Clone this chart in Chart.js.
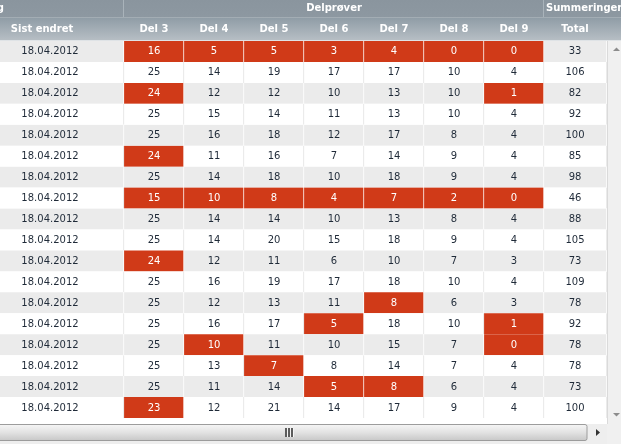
<!DOCTYPE html>
<html>
<head>
<meta charset="utf-8">
<script src="https://cdn.jsdelivr.net/npm/chart.js@4.4.1/dist/chart.umd.min.js"></script>
<style>
  html, body { margin: 0; padding: 0; background: #fff; }
  #wrap { width: 621px; height: 444px; position: relative; }
</style>
</head>
<body>
<div id="wrap"><canvas id="gridChart"></canvas></div>
<script>
// column headers and group headers
const columnNames = ['Sist endret', 'Del 3', 'Del 4', 'Del 5', 'Del 6', 'Del 7', 'Del 8', 'Del 9', 'Total'];
const rowIds = ['r1', 'r2', 'r3', 'r4', 'r5', 'r6', 'r7', 'r8', 'r9', 'r10', 'r11', 'r12', 'r13', 'r14', 'r15', 'r16', 'r17', 'r18'];

const sistEndret = ['18.04.2012', '18.04.2012', '18.04.2012', '18.04.2012', '18.04.2012', '18.04.2012',
  '18.04.2012', '18.04.2012', '18.04.2012', '18.04.2012', '18.04.2012', '18.04.2012',
  '18.04.2012', '18.04.2012', '18.04.2012', '18.04.2012', '18.04.2012', '18.04.2012'];
const del3 = [16, 25, 24, 25, 25, 24, 25, 15, 25, 25, 24, 25, 25, 25, 25, 25, 25, 23];
const del4 = [5, 14, 12, 15, 16, 11, 14, 10, 14, 14, 12, 16, 12, 16, 10, 13, 11, 12];
const del5 = [5, 19, 12, 14, 18, 16, 18, 8, 14, 20, 11, 19, 13, 17, 11, 7, 14, 21];
const del6 = [3, 17, 10, 11, 12, 7, 10, 4, 10, 15, 6, 17, 11, 5, 10, 8, 5, 14];
const del7 = [4, 17, 13, 13, 17, 14, 18, 7, 13, 18, 10, 18, 8, 18, 15, 14, 8, 17];
const del8 = [0, 10, 10, 10, 8, 9, 9, 2, 8, 9, 7, 10, 6, 10, 7, 7, 6, 9];
const del9 = [0, 4, 1, 4, 4, 4, 4, 0, 4, 4, 3, 4, 3, 1, 0, 4, 4, 4];
const total = [33, 106, 82, 92, 100, 85, 98, 46, 88, 105, 73, 109, 78, 92, 78, 78, 73, 100];

// a Del value at or below its limit is flagged red (null = never flagged)
const redLimits = [null, 24, 10, 8, 5, 8, 2, 1, null];

// layout: column edges on the x scale (1 unit = 1 px of the grid)
const columnEdges = [-24, 124, 184, 244, 304, 364, 424, 484, 544, 607];

const columnValues = [sistEndret, del3, del4, del5, del6, del7, del8, del9, total];

const RED = '#d03a18';
const ROW_GRAY = '#ebebeb';
const FONT = '"DejaVu Sans", Tahoma, sans-serif';

function isFlagged(col, row) {
  const limit = redLimits[col];
  return limit !== null && columnValues[col][row] <= limit;
}

const datasets = columnNames.map((name, col) => ({
  label: name,
  values: columnValues[col],
  data: rowIds.map(() => [columnEdges[col], columnEdges[col + 1]]),
  backgroundColor: rowIds.map((_, row) => isFlagged(col, row) ? RED : (row % 2 === 0 ? ROW_GRAY : '#ffffff')),
  borderColor: rowIds.map((_, row) => (isFlagged(col, row) || row % 2 === 0) ? '#ffffff' : '#e2e2e2'),
  borderWidth: { right: 1, left: 0, top: 0, bottom: 0 },
  borderSkipped: false,
  barPercentage: 1,
  categoryPercentage: 1,
  grouped: false
}));

const gridChrome = {
  id: 'gridChrome',
  afterDatasetsDraw(chart) {
    const ctx = chart.ctx;
    ctx.save();
    ctx.font = `10px ${FONT}`;
    ctx.textAlign = 'center';
    ctx.textBaseline = 'middle';
    chart.data.datasets.forEach((ds, col) => {
      const meta = chart.getDatasetMeta(col);
      meta.data.forEach((bar, row) => {
        const { x, base, y } = bar.getProps(['x', 'base', 'y'], true);
        const left = Math.max(Math.min(x, base), chart.chartArea.left);
        const right = Math.max(x, base);
        ctx.fillStyle = isFlagged(col, row) ? '#ffffff' : '#1f2a38';
        const cx = col === 0 ? (Math.min(x, base) + right) / 2 : (left + right - 1) / 2;
        ctx.fillText(String(ds.values[row]), Math.round(cx), Math.round(y) + 0.5);
      });
    });
    ctx.restore();
  },
  afterDraw(chart) {
    const ctx = chart.ctx;
    const xs = chart.scales.x;
    const area = chart.chartArea;
    const W = chart.width;
    const H = chart.height;
    const px = (v) => xs.getPixelForValue(v);
    ctx.save();

    // header: group row
    let g = ctx.createLinearGradient(0, 0, 0, 17);
    g.addColorStop(0, '#8a959e');
    g.addColorStop(1, '#8d98a1');
    ctx.fillStyle = g;
    ctx.fillRect(0, 0, W, 17);
    // header: column row
    g = ctx.createLinearGradient(0, 17, 0, 40);
    g.addColorStop(0, '#8e9ba5');
    g.addColorStop(1, '#b6bec4');
    ctx.fillStyle = g;
    ctx.fillRect(0, 17, W, 23);
    ctx.fillStyle = '#a3adb4';
    ctx.fillRect(0, 17, W, 1);
    ctx.fillStyle = '#dfe3e6';
    ctx.fillRect(0, 40, W, 1);

    // group separators
    ctx.fillStyle = '#a9b3ba';
    ctx.fillRect(px(columnEdges[1]) - 1, 0, 1, 17);
    ctx.fillRect(px(columnEdges[8]) - 1, 0, 1, 17);

    ctx.fillStyle = '#ffffff';
    ctx.font = `bold 10px ${FONT}`;
    ctx.textBaseline = 'middle';
    ctx.textAlign = 'right';
    ctx.fillText('Registrering', 4, 8);
    ctx.textAlign = 'center';
    ctx.fillText('Delprøver', (px(columnEdges[1]) + px(columnEdges[8])) / 2, 8);
    ctx.textAlign = 'left';
    ctx.fillText('Summeringer', px(columnEdges[8]) + 2, 8);

    ctx.textAlign = 'center';
    columnNames.forEach((name, col) => {
      let cx = (px(columnEdges[col]) + px(columnEdges[col + 1]) - 1) / 2;
      if (col === 0) cx -= 8;
      ctx.fillText(name, Math.round(cx), 29);
    });

    // vertical scrollbar
    const sbX = area.right;
    ctx.fillStyle = '#f0f0f0';
    ctx.fillRect(sbX, 41, W - sbX, H - 41);
    ctx.fillStyle = '#dadada';
    ctx.fillRect(sbX, 41, 1, area.bottom + 6 - 41);
    ctx.fillStyle = '#8c8c8c';
    ctx.beginPath();
    ctx.moveTo(sbX + 6, 51); ctx.lineTo(sbX + 13, 51); ctx.lineTo(sbX + 9.5, 47.5); ctx.closePath(); ctx.fill();
    ctx.beginPath();
    ctx.moveTo(sbX + 6, 413); ctx.lineTo(sbX + 13, 413); ctx.lineTo(sbX + 9.5, 416.5); ctx.closePath(); ctx.fill();

    // horizontal scrollbar
    const hy = area.bottom + 6;
    ctx.fillStyle = '#ffffff';
    ctx.fillRect(0, area.bottom, sbX, hy - area.bottom);
    ctx.fillStyle = '#eeeeee';
    ctx.fillRect(0, hy, sbX, H - hy);
    g = ctx.createLinearGradient(0, hy, 0, hy + 17);
    g.addColorStop(0, '#f7f7f7');
    g.addColorStop(0.5, '#e2e2e2');
    g.addColorStop(1, '#c6c6c6');
    ctx.fillStyle = g;
    ctx.beginPath();
    ctx.roundRect(-4, hy + 0.5, 591, 16, 2);
    ctx.fill();
    ctx.strokeStyle = '#9c9c9c';
    ctx.lineWidth = 1;
    ctx.stroke();
    // grip
    [285, 288, 291].forEach((gx) => {
      ctx.fillStyle = '#5c5c5c';
      ctx.fillRect(gx, hy + 4, 2, 9);
      ctx.fillStyle = '#f4f4f4';
      ctx.fillRect(gx + 2, hy + 4, 1, 9);
    });
    // right arrow
    ctx.fillStyle = '#333333';
    ctx.beginPath();
    ctx.moveTo(596, hy + 5); ctx.lineTo(596, hy + 12); ctx.lineTo(600, hy + 8.5); ctx.closePath(); ctx.fill();

    ctx.restore();
  }
};

new Chart(document.getElementById('gridChart'), {
  type: 'bar',
  data: { labels: rowIds, datasets },
  options: {
    indexAxis: 'y',
    responsive: true,
    maintainAspectRatio: false,
    animation: false,
    events: [],
    layout: { padding: { top: 41, bottom: 26, left: 0, right: 14 } },
    plugins: { legend: { display: false }, tooltip: { enabled: false } },
    scales: {
      x: { type: 'linear', min: 0, max: 607, display: false },
      y: { type: 'category', display: false, offset: true }
    }
  },
  plugins: [gridChrome]
});
</script>
</body>
</html>
